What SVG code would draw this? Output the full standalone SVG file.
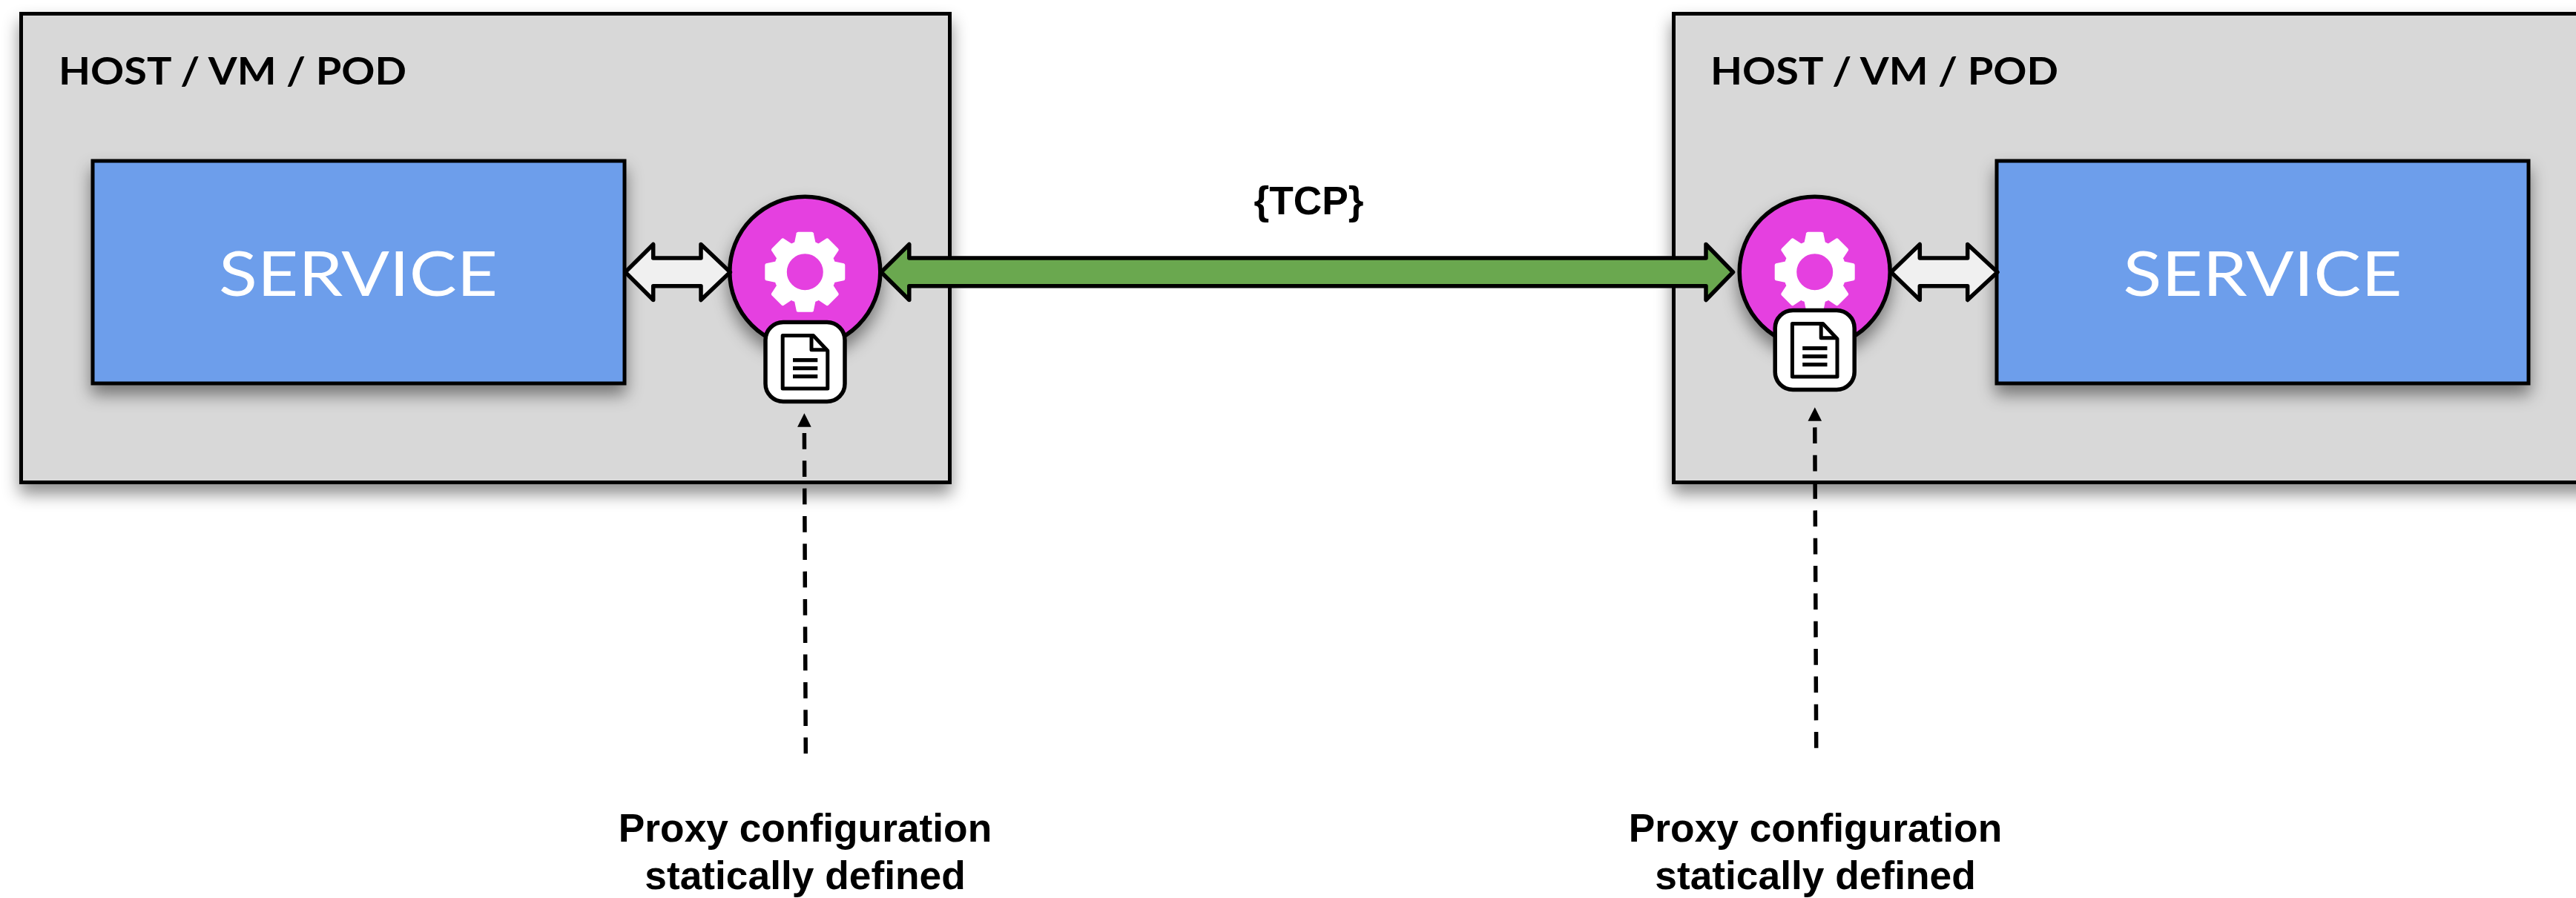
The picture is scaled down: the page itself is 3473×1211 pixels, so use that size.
<svg xmlns="http://www.w3.org/2000/svg" width="3473" height="1211" viewBox="0 0 3473 1211">
<defs>
<filter id="sh" x="-20%" y="-20%" width="140%" height="140%"><feDropShadow dx="0" dy="13" stdDeviation="11" flood-color="#000" flood-opacity="0.45"/></filter>
<marker id="tip" markerUnits="userSpaceOnUse" markerWidth="19" markerHeight="19" refX="-8.300" refY="0" orient="-90" viewBox="0 -9.500 19 19" overflow="visible"><path d="M18.400 0L0 9.300L0 -9.300Z" fill="#000"/></marker>
<path id="tooth" d="M-14.500 -38L-11.500 -52.500Q-11 -54 -9 -54H9Q11 -54 11.500 -52.500L14.500 -38Z" fill="#fff"/>
<g id="gear">
<use href="#tooth"/><use href="#tooth" transform="rotate(45)"/><use href="#tooth" transform="rotate(90)"/><use href="#tooth" transform="rotate(135)"/><use href="#tooth" transform="rotate(180)"/><use href="#tooth" transform="rotate(225)"/><use href="#tooth" transform="rotate(270)"/><use href="#tooth" transform="rotate(315)"/>
<circle r="33.500" fill="none" stroke="#fff" stroke-width="18"/>
</g>
<g id="doc">
<rect x="-53.500" y="-53.500" width="107" height="107" rx="24" fill="#fff" stroke="#000" stroke-width="5.500"/>
<path d="M-30.300 -35.500H11L30.300 -15V36H-30.300Z" fill="#fff" stroke="#000" stroke-width="5" stroke-linejoin="round"/>
<path d="M8.500 -35.500V-16.300H30.300" fill="none" stroke="#000" stroke-width="5" stroke-linejoin="round"/>
<path d="M-16.500 -2.300H16.800M-16.500 8.700H16.800M-16.500 19.700H16.800" stroke="#000" stroke-width="5.300" fill="none"/>
</g>
</defs>
<style>
.box{fill:#D8D8D8;stroke:#000;stroke-width:5;filter:url(#sh)}
.svc{fill:#6D9EEB;stroke:#000;stroke-width:5;filter:url(#sh)}
.prx{fill:#E540E0;stroke:#000;stroke-width:5.500;filter:url(#sh)}
.dbl{fill:#F0F0F0;stroke:#000;stroke-width:5.500;stroke-linejoin:round}
.grn{fill:#6AA84F;stroke:#000;stroke-width:5.500;stroke-linejoin:round}
.dash{stroke:#000;stroke-width:5.500;stroke-dasharray:21.700 15.630;fill:none}
.hd{font-family:Lato,"Noto Sans",sans-serif;font-weight:700;font-size:52px;fill:#000}
.sv{font-family:Lato,"Open Sans",sans-serif;font-weight:400;font-size:83px;fill:#fff;text-anchor:middle}
.lb{font-family:"Liberation Sans",Arial,sans-serif;font-weight:700;font-size:53.300px;fill:#000;text-anchor:middle}
</style>
<g id="host-left"><rect class="box" x="28.500" y="18.500" width="1252" height="632"/><text class="hd" x="79" y="114" textLength="469" lengthAdjust="spacingAndGlyphs">HOST / VM / POD</text></g>
<g id="host-right"><rect class="box" x="2256.500" y="18.500" width="1300" height="632"/><text class="hd" x="2306" y="114" textLength="469" lengthAdjust="spacingAndGlyphs">HOST / VM / POD</text></g>
<g id="service-left"><rect class="svc" x="125" y="217" width="717" height="300"/><text class="sv" x="483" y="399" textLength="376" lengthAdjust="spacingAndGlyphs">SERVICE</text></g>
<g id="service-right"><rect class="svc" x="2692" y="217" width="717" height="300"/><text class="sv" x="3050.500" y="399" textLength="376" lengthAdjust="spacingAndGlyphs">SERVICE</text></g>
<g id="proxy-left"><circle class="prx" cx="1085.300" cy="366.700" r="101.500"/><use href="#gear" x="1085.300" y="366.700"/><use href="#doc" x="1085.500" y="488"/></g>
<g id="proxy-right"><circle class="prx" cx="2446.700" cy="366.700" r="101.500"/><use href="#gear" x="2446.700" y="366.700"/><use href="#doc" x="2446.700" y="472"/></g>
<g id="connectors">
<path class="dbl" d="M843 367L880.700 329.500V348H945V329.500L984.400 367L945 404.500V385.800H880.700V404.500Z"/>
<path class="dbl" d="M2549.600 367L2588.300 329.500V348H2652.700V329.500L2693 367L2652.700 404.500V385.800H2588.300V404.500Z"/>
<path class="grn" d="M1188 367L1225.800 329.500V348H2300V329.500L2336.500 367L2300 404.500V385.800H1225.800V404.500Z"/>
<path class="dash" d="M1086.300 1016.300L1084.400 584" marker-end="url(#tip)"/>
<path class="dash" d="M2448.700 1008.700L2446.800 576" marker-end="url(#tip)"/>
</g>
<g id="labels">
<text class="lb" x="1764.500" y="289">{TCP}</text>
<text class="lb" x="1085.500" y="1135">Proxy configuration</text>
<text class="lb" x="1085.500" y="1199">statically defined</text>
<text class="lb" x="2447.500" y="1135">Proxy configuration</text>
<text class="lb" x="2447.500" y="1199">statically defined</text>
</g>
</svg>
